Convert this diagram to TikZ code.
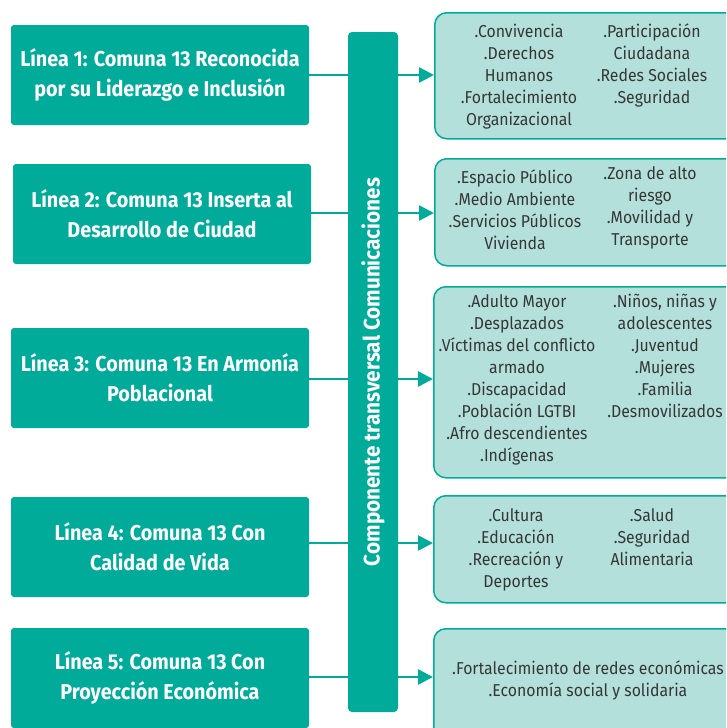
\documentclass[tikz,border=0pt]{standalone}
\usepackage{fontspec}
\setmainfont{Fira Sans}[FakeStretch=0.92]
\usetikzlibrary{arrows.meta}
\definecolor{tealdark}{HTML}{00AB9A}
\definecolor{teallight}{HTML}{B3E0DA}
\definecolor{txtgray}{HTML}{363636}
\tikzset{
  lbox/.style={fill=tealdark, rounded corners=3pt, text=white, align=center, inner sep=0pt,
    font=\bfseries\fontsize{21.5}{30}\selectfont, minimum width=298pt, minimum height=100pt},
  rbox/.style={fill=teallight, draw=tealdark, line width=1.5pt, rounded corners=12pt, inner sep=0pt, anchor=north west},
  rtext/.style={text=txtgray, align=center, anchor=north, inner sep=0pt, font=\fontsize{17.2}{22}\selectfont},
  conn/.style={draw=tealdark, line width=2.5pt},
  arr/.style={conn, -{Triangle[length=15pt,width=15pt]}},
  barbox/.style={fill=tealdark, rounded corners=4pt, minimum width=50pt, minimum height=680pt, inner sep=0pt},
  bartext/.style={text=white, rotate=90, font=\bfseries\fontsize{22.5}{24}\selectfont}
}
\begin{document}
\begin{tikzpicture}[x=1pt, y=-1pt]
\useasboundingbox (0,0) rectangle (726,728);
\fill[white] (0,0) rectangle (726,728);
\begin{scope}
\clip (0,0) rectangle (726,728);
% left boxes
\node[lbox] (L1) at (160,75) {Línea 1: Comuna 13 Reconocida\\por su Liderazgo e Inclusión};
\node[lbox] (L2) at (162,214) {Línea 2: Comuna 13 Inserta al\\Desarrollo de Ciudad};
\node[lbox] (L3) at (160,378) {Línea 3: Comuna 13 En Armonía\\Poblacional};
\node[lbox] (L4) at (160,547) {Línea 4: Comuna 13 Con\\Calidad de Vida};
\node[lbox] (L5) at (160,678) {Línea 5: Comuna 13 Con\\Proyección Económica};
% bar
\node[barbox] (bar) at (373,372) {};
\node[bartext] (bart) at (bar.center) {Componente transversal Comunicaciones};
% right boxes
\node[rbox, minimum width=310pt, minimum height=126pt] (R1) at (434,12) {};
\node[rbox, minimum width=310pt, minimum height=107pt] (R2) at (434,158) {};
\node[rbox, minimum width=310pt, minimum height=191pt] (R3) at (433,286) {};
\node[rbox, minimum width=310pt, minimum height=107pt] (R4) at (433,495) {};
\node[rbox, minimum width=310pt, minimum height=120pt] (R5) at (433,628) {};
% right texts
\node[rtext] (t1a) at (519,24) {.Convivencia\\.Derechos\\Humanos\\.Fortalecimiento\\Organizacional};
\node[rtext] (t1b) at (652,24) {.Participación\\Ciudadana\\.Redes Sociales\\.Seguridad};
\node[rtext] (t2a) at (515,170) {.Espacio Público\\.Medio Ambiente\\.Servicios Públicos\\Vivienda};
\node[rtext] (t2b) at (650,166) {.Zona de alto\\riesgo\\.Movilidad y\\Transporte};
\node[rtext] (t3a) at (517,294) {.Adulto Mayor\\.Desplazados\\.Víctimas del conflicto\\armado\\.Discapacidad\\.Población LGTBI\\.Afro descendientes\\.Indígenas};
\node[rtext] (t3b) at (665,294) {.Niños, niñas y\\adolescentes\\.Juventud\\.Mujeres\\.Familia\\.Desmovilizados};
\node[rtext] (t4a) at (516,508) {.Cultura\\.Educación\\.Recreación y\\Deportes};
\node[rtext] (t4b) at (652,508) {.Salud\\.Seguridad\\Alimentaria};
\node[rtext] (t5) at (588,661) {.Fortalecimiento de redes económicas\\.Economía social y solidaria};
% connectors
\foreach \i/\yy in {1/75,2/213,3/379,4/543,5/677}{
  \coordinate (c\i) at (0,\yy);
  \draw[conn] (c\i -| L\i.east) -- (c\i -| bar.west);
  \draw[arr] (c\i -| bar.east) -- (c\i -| R\i.west);
}
\end{scope}
\end{tikzpicture}
\end{document}
